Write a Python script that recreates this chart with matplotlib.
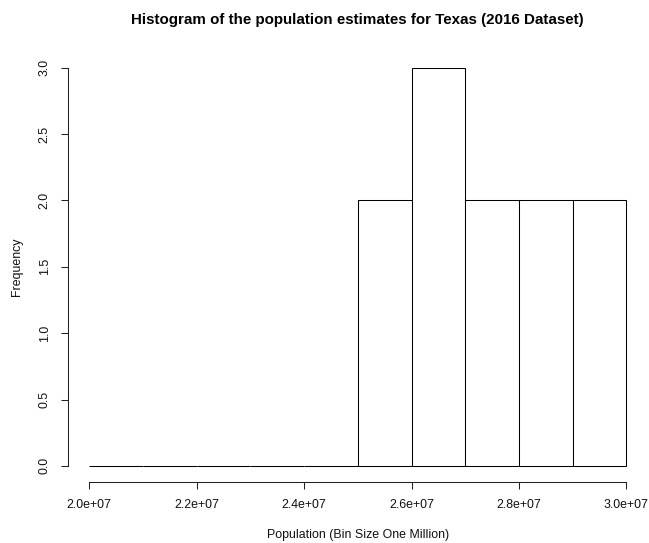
import matplotlib
matplotlib.use("Agg")
import matplotlib.pyplot as plt
import numpy as np

# Histogram of Texas population estimates (2016 dataset), 1-million bins
bin_edges = [20e6, 21e6, 22e6, 23e6, 24e6, 25e6, 26e6, 27e6, 28e6, 29e6, 30e6]
counts = [0, 0, 0, 0, 0, 2, 3, 2, 2, 2]

x_ticks = [20e6, 22e6, 24e6, 26e6, 28e6, 30e6]
x_tick_labels = ["2.0e+07", "2.2e+07", "2.4e+07", "2.6e+07", "2.8e+07", "3.0e+07"]
y_ticks = [0.0, 0.5, 1.0, 1.5, 2.0, 2.5, 3.0]
y_tick_labels = ["0.0", "0.5", "1.0", "1.5", "2.0", "2.5", "3.0"]

title = "Histogram of the population estimates for Texas (2016 Dataset)"
x_label = "Population (Bin Size One Million)"
y_label = "Frequency"

plt.rcParams["font.family"] = ["Liberation Sans", "DejaVu Sans"]

W, H = 649, 543
fig = plt.figure(figsize=(W / 100, H / 100), dpi=100)
fig.patch.set_facecolor("white")

# plot region in pixels
left_px, right_px, top_px, bottom_px = 67.8, 647.8, 51.8, 481.8
ax = fig.add_axes([left_px / W, (H - bottom_px) / H,
                   (right_px - left_px) / W, (bottom_px - top_px) / H])

edges = np.array(bin_edges)
widths = np.diff(edges)
ax.bar(edges[:-1], counts, width=widths, align="edge",
       facecolor="white", edgecolor="black", linewidth=0.75)

# R-style 4% padding around the data range
xr = bin_edges[-1] - bin_edges[0]
ax.set_xlim(bin_edges[0] - 0.04 * xr, bin_edges[-1] + 0.04 * xr)
ymax = max(counts)
ax.set_ylim(-0.04 * ymax, ymax * 1.04)

for s in ["top", "right"]:
    ax.spines[s].set_visible(False)
ax.spines["left"].set_bounds(y_ticks[0], y_ticks[-1])
ax.spines["bottom"].set_bounds(x_ticks[0], x_ticks[-1])
for s in ["left", "bottom"]:
    ax.spines[s].set_linewidth(0.75)
    ax.spines[s].set_color("#222222")

ax.set_xticks(x_ticks)
ax.set_xticklabels(x_tick_labels)
ax.set_yticks(y_ticks)
ax.set_yticklabels(y_tick_labels, rotation=90, va="center")

ax.tick_params(axis="both", direction="out", length=5.2, width=0.75,
               color="#222222", labelsize=8.9, labelcolor="#111111")
ax.tick_params(axis="x", pad=7)
ax.tick_params(axis="y", pad=7)

fig.text(0.5 * (left_px + right_px) / W, 1 - 20 / H, title,
         ha="center", va="center", fontsize=10.9, fontweight="bold")
fig.text(0.5 * (left_px + right_px) / W, 1 - 535 / H, x_label,
         ha="center", va="center", fontsize=8.9, color="#111111")
fig.text(17 / W, 1 - 0.5 * (top_px + bottom_px) / H, y_label,
         ha="center", va="center", rotation=90, fontsize=8.9, color="#111111")

fig.savefig("out.png", dpi=100, facecolor="white")
